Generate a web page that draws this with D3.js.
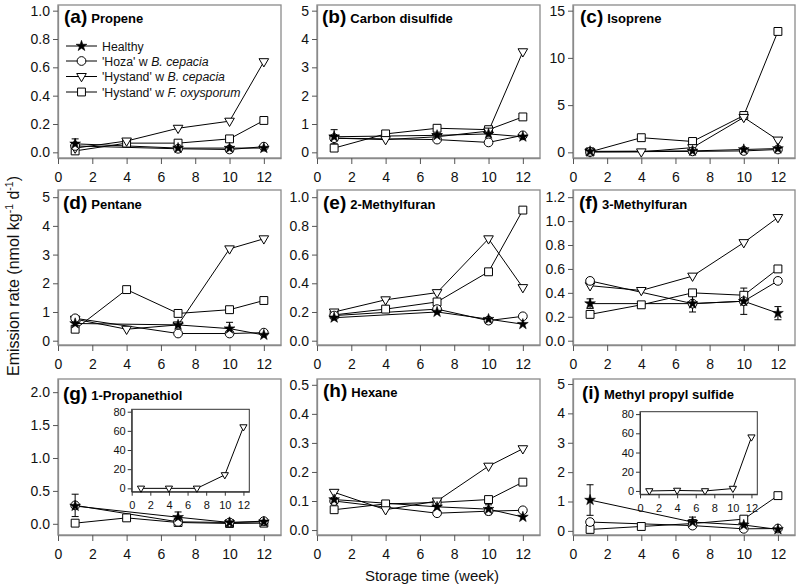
<!DOCTYPE html>
<html><head><meta charset="utf-8">
<script src="https://cdn.jsdelivr.net/npm/d3@7"></script>
<style>body{margin:0;background:#fff}svg{display:block;font-family:"Liberation Sans",Arial,sans-serif}</style>
</head><body><svg id="c" width="798" height="586"></svg>
<script>
// ---------- DATA ----------
const panelLetters = ["(a)","(b)","(c)","(d)","(e)","(f)","(g)","(h)","(i)"];
const compounds = ["Propene","Carbon disulfide","Isoprene","Pentane","2-Methylfuran","3-Methylfuran","1-Propanethiol","Hexane","Methyl propyl sulfide"];
const weeksShort = [1,7,10,12];      // Healthy & 'Hoza'
const weeksLong = [1,4,7,10,12];     // 'Hystand'
const healthyValues = [
  [0.06,0.03,0.03,0.03],
  [0.55,0.6,0.65,0.55],
  [0.1,0.15,0.3,0.4],
  [0.6,0.55,0.42,0.2],
  [0.16,0.2,0.15,0.115],
  [0.31,0.31,0.33,0.23],
  [0.27,0.1,0.02,0.03],
  [0.105,0.08,0.072,0.045],
  [1.05,0.3,0.2,0.05]
];
const healthyErrors = [
  [0.035,0,0,0],
  [0.25,0,0,0],
  [0,0,0,0],
  [0,0,0.22,0],
  [0,0,0,0],
  [0.04,0.07,0.11,0.055],
  [0,0.08,0,0],
  [0,0,0.015,0],
  [0.52,0.17,0,0]
];
const hozaValues = [
  [0.045,0.025,0.02,0.04],
  [0.5,0.45,0.35,0.6],
  [0.05,0.1,0.15,0.3],
  [0.78,0.25,0.25,0.28],
  [0.175,0.22,0.14,0.17],
  [0.5,0.31,0.33,0.5],
  [0.28,0.03,0.02,0.04],
  [0.1,0.058,0.065,0.068],
  [0.3,0.18,0.07,0.08]
];
const hozaErrors = [
  [0,0,0,0],[0,0,0,0],[0,0,0,0],[0,0,0,0],[0,0,0,0],[0,0,0,0],
  [0.17,0,0,0],[0,0,0.012,0],[0,0,0,0]
];
const hystandBValues = [
  [0.03,0.08,0.17,0.22,0.64],
  [0.5,0.45,0.55,0.75,3.55],
  [0.05,0.05,0.5,3.7,1.3],
  [0.75,0.4,0.55,3.2,3.55],
  [0.2,0.285,0.335,0.71,0.37],
  [0.46,0.42,0.54,0.82,1.03],
  null,
  [0.13,0.07,0.1,0.22,0.28],
  null
];
const hystandFValues = [
  [0.01,0.065,0.065,0.095,0.225],
  [0.15,0.65,0.85,0.8,1.25],
  [0.05,1.55,1.15,3.9,12.8],
  [0.4,1.78,0.95,1.08,1.4],
  [0.18,0.22,0.27,0.48,0.91],
  [0.22,0.3,0.4,0.38,0.6],
  [0.01,0.09,0.02,0.005,0.01],
  [0.07,0.09,0.095,0.105,0.165],
  [0.05,0.15,0.25,0.4,1.2]
];
// insets: 'Hystand' w B. cepacia for (g) and (i)
const insetPanels = [6,8];
const insetValues = [
  [0,0,0,14,64],
  [0,0.5,0,2.5,56]
];
const xTickValues = [0,2,4,6,8,10,12];
const insetYTicks = [0,20,40,60,80];
const yTickValues = [
  [0,0.2,0.4,0.6,0.8,1.0],
  [0,1,2,3,4,5],
  [0,5,10,15],
  [0,1,2,3,4,5],
  [0,0.2,0.4,0.6,0.8,1.0],
  [0,0.2,0.4,0.6,0.8,1.0,1.2],
  [0,0.5,1.0,1.5,2.0],
  [0,0.1,0.2,0.3,0.4,0.5],
  [0,1,2,3,4,5]
];
const yTickFormats = [".1f","d","d","d",".1f",".1f",".1f",".1f","d"];
const yDomains = [
  [-0.04,1.04],[-0.2,5.2],[-0.6,15.6],
  [-0.15,5.25],[-0.03,1.05],[-0.036,1.26],
  [-0.17,2.2],[-0.017,0.52],[-0.14,5.17]
];
const legendLabels = [
  ["Healthy",""],
  ["'Hoza' w ","B. cepacia"],
  ["'Hystand' w ","B. cepacia"],
  ["'Hystand' w ","F. oxysporum"]
];

// ---------- LAYOUT ----------
const colL = [58,317,573], colR = [281,540,795];
const rowT = [5,190,379], rowB = [158,345,535];
const insetBoxes = [
  {l:131.7,r:249.3,t:409.3,b:491.7},
  {l:640,r:757.3,t:411.7,b:494.3}
];
const frameColor = "#8a8a8a";

const svg = d3.select("#c");

const triPath = s=>`M${-s},${-s*0.62}L${s},${-s*0.62}L0,${s*1.1}Z`;
const sym = {
  star: d3.symbol().type(d3.symbolStar).size(36)(),
  circle: d3.symbol().type(d3.symbolCircle).size(60)(),
  square: d3.symbol().type(d3.symbolSquare).size(62)(),
  tri: triPath(4.8),
  triSmall: triPath(3.6)
};
function marker(g, type, x, y){
  const p = g.append("path").attr("d", sym[type]).attr("transform",`translate(${x},${y})`);
  if(type==="star") p.attr("fill","#000").attr("stroke","#000").attr("stroke-width",0.6);
  else p.attr("fill","#fff").attr("stroke","#000").attr("stroke-width",1);
  return p;
}

for(let i=0;i<9;i++){
  const c=i%3, r=Math.floor(i/3);
  const L=colL[c], R=colR[c], T=rowT[r], B=rowB[r];
  const x = d3.scaleLinear().domain([0,13]).range([L,R]);
  const y = d3.scaleLinear().domain(yDomains[i]).range([B,T]);
  const g = svg.append("g");
  g.append("rect").attr("x",L).attr("y",T).attr("width",R-L).attr("height",B-T)
    .attr("fill","none").attr("stroke",frameColor).attr("stroke-width",1.3);
  const xa = g.append("g").attr("transform",`translate(0,${B})`)
    .call(d3.axisBottom(x).tickValues(xTickValues).tickFormat(d3.format("d")).tickSize(6).tickSizeOuter(0));
  const ya = g.append("g").attr("transform",`translate(${L},0)`)
    .call(d3.axisLeft(y).tickValues(yTickValues[i]).tickFormat(d3.format(yTickFormats[i])).tickSize(5).tickSizeOuter(0));
  [xa,ya].forEach(a=>{
    a.select(".domain").attr("stroke",frameColor).attr("stroke-width",1.3);
    a.selectAll(".tick line").attr("stroke","#555");
    a.selectAll(".tick text").attr("font-size",14).attr("fill","#111")
      .attr("font-family","Liberation Sans, Arial, sans-serif");
  });
  xa.selectAll(".tick text").attr("dy","1.05em");
  ya.selectAll(".tick text").attr("x",-8);

  const line = d3.line().x(d=>x(d[0])).y(d=>y(d[1]));
  const pts = (ws,vs)=>ws.map((w,k)=>[w,vs[k]]);
  const series = [];
  if(hystandFValues[i]) series.push({pts:pts(weeksLong,hystandFValues[i]),m:"square"});
  if(hystandBValues[i]) series.push({pts:pts(weeksLong,hystandBValues[i]),m:"tri"});
  series.push({pts:pts(weeksShort,hozaValues[i]),m:"circle",err:hozaErrors[i]});
  series.push({pts:pts(weeksShort,healthyValues[i]),m:"star",err:healthyErrors[i]});
  series.forEach(s=>{
    g.append("path").attr("d",line(s.pts)).attr("fill","none").attr("stroke","#000").attr("stroke-width",1);
  });
  series.forEach(s=>{
    if(s.err){
      s.pts.forEach((p,k)=>{
        const e=s.err[k]; if(!e) return;
        const px=x(p[0]), y1=y(p[1]+e), y0=y(p[1]-e);
        g.append("line").attr("x1",px).attr("x2",px).attr("y1",y1).attr("y2",y0).attr("stroke","#000");
        [y1,y0].forEach(yy=>g.append("line").attr("x1",px-3.5).attr("x2",px+3.5).attr("y1",yy).attr("y2",yy).attr("stroke","#000"));
      });
    }
  });
  series.forEach(s=>s.pts.forEach(p=>marker(g,s.m,x(p[0]),y(p[1]))));

  const tOff = [[6,18],[5,18],[7,18],[5,19],[6,19],[6,19],[5,21],[6,18],[9,20]][i];
  const t = g.append("text").attr("x",L+tOff[0]).attr("y",T+tOff[1]).attr("font-weight","bold");
  t.append("tspan").attr("font-size",19).text(panelLetters[i]);
  t.append("tspan").attr("font-size",13).attr("dx",4).text(compounds[i]);
}

// insets
insetPanels.forEach((pi,k)=>{
  const b=insetBoxes[k];
  const x=d3.scaleLinear().domain([0,12.63]).range([b.l,b.r]);
  const y=d3.scaleLinear().domain([-3.5,82.5]).range([b.b,b.t]);
  const g=svg.append("g");
  g.append("rect").attr("x",b.l).attr("y",b.t).attr("width",b.r-b.l).attr("height",b.b-b.t)
    .attr("fill","#fff").attr("stroke","#333").attr("stroke-width",1);
  const xa=g.append("g").attr("transform",`translate(0,${b.b})`)
    .call(d3.axisBottom(x).tickValues(xTickValues).tickFormat(d3.format("d")).tickSize(4).tickSizeOuter(0));
  const ya=g.append("g").attr("transform",`translate(${b.l},0)`)
    .call(d3.axisLeft(y).tickValues(insetYTicks).tickFormat(d3.format("d")).tickSize(4).tickSizeOuter(0));
  [xa,ya].forEach(a=>{
    a.select(".domain").attr("stroke","#333");
    a.selectAll(".tick line").attr("stroke","#333");
    a.selectAll(".tick text").attr("font-size",11).attr("fill","#111").attr("font-family","Liberation Sans, Arial, sans-serif");
  });
  xa.selectAll(".tick text").attr("dy","0.95em");
  ya.selectAll(".tick text").attr("x",-6);
  const data=weeksLong.map((w,j)=>[w,insetValues[k][j]]);
  g.append("path").attr("d",d3.line().x(d=>x(d[0])).y(d=>y(d[1]))(data)).attr("fill","none").attr("stroke","#000");
  data.forEach(p=>marker(g,"triSmall",x(p[0]),y(p[1])));
});

// legend in (a)
const lg = svg.append("g");
const legendRows=[46,61,76.5,92], legendMarks=["star","circle","tri","square"];
legendLabels.forEach((lab,k)=>{
  const yy=legendRows[k];
  lg.append("line").attr("x1",66).attr("x2",97).attr("y1",yy).attr("y2",yy).attr("stroke","#000");
  marker(lg,legendMarks[k],81.5,yy);
  const t=lg.append("text").attr("x",102).attr("y",yy+4.5).attr("font-size",12.3).attr("fill","#111");
  t.append("tspan").text(lab[0]);
  if(lab[1]) t.append("tspan").attr("font-style","italic").text(lab[1]);
});

// axis titles
const yt = svg.append("text").attr("transform","translate(19,276) rotate(-90)")
  .attr("text-anchor","middle").attr("font-size",16).attr("fill","#111");
yt.append("tspan").text("Emission rate (nmol kg");
yt.append("tspan").attr("font-size",10.5).attr("dy",-6).text("-1");
yt.append("tspan").attr("dy",6).text(" d");
yt.append("tspan").attr("font-size",10.5).attr("dy",-6).text("-1");
yt.append("tspan").attr("dy",6).text(")");
svg.append("text").attr("x",432).attr("y",581).attr("text-anchor","middle")
  .attr("font-size",15).attr("fill","#111").text("Storage time (week)");
</script></body></html>
